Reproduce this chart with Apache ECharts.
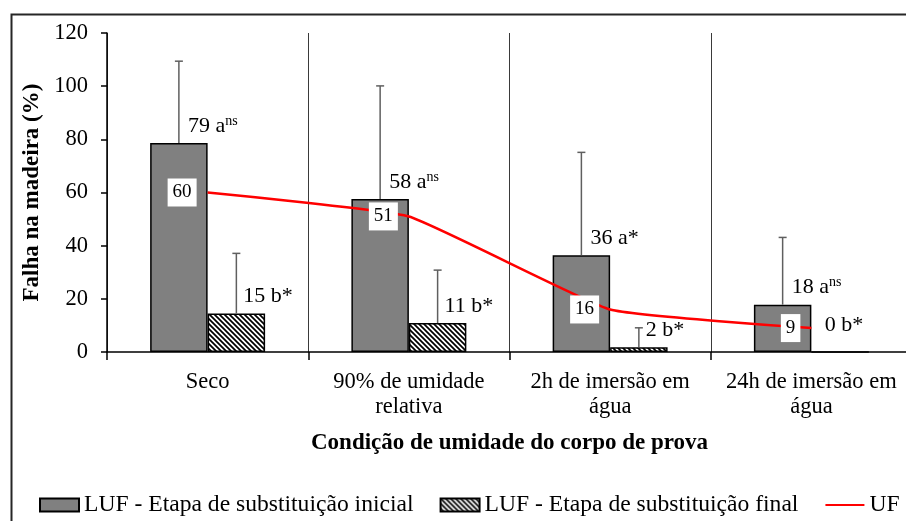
<!DOCTYPE html>
<html>
<head>
<meta charset="utf-8">
<script src="https://cdn.jsdelivr.net/npm/echarts@6/dist/echarts.min.js"></script>
<style>html,body{margin:0;padding:0;background:#fff}#c{width:906px;height:521px}</style>
</head>
<body>
<div id="c"></div>
<script>
// ---- data ----
const categories = ['Seco', '90% de umidade\nrelativa', '2h de imersão em\nágua', '24h de imersão em\nágua'];
const lufInicial = [78.6, 57.6, 36.4, 17.8];
const lufInicialSD = [30.8, 42.5, 38.7, 25.3];
const lufFinal = [14.5, 10.9, 1.8, 0];
const lufFinalSD = [22.6, 19.9, 7.3, 0];
const ufValues = [60, 51, 16, 9];
const inicialLetters = ['a', 'a', 'a', 'a'];
const inicialSig = ['ns', 'ns', '*', 'ns'];
const finalLetters = ['b', 'b', 'b', 'b'];
const finalSig = ['*', '*', '*', '*'];
const seriesNames = ['LUF - Etapa de substituição inicial', 'LUF - Etapa de substituição final', 'UF'];
const yMin = 0, yMax = 120, yInterval = 20;

// ---- styles ----
const FONT = "'Liberation Serif', 'Times New Roman', serif";
const BAR_FRAC = 0.2856;

const pc = document.createElement('canvas');
pc.width = 5; pc.height = 5;
const g = pc.getContext('2d');
g.fillStyle = '#fff'; g.fillRect(0, 0, 5, 5);
g.strokeStyle = '#000'; g.lineWidth = 1.7;
g.beginPath();
g.moveTo(-1, -1); g.lineTo(6, 6);
g.moveTo(-1, 4); g.lineTo(1, 6);
g.moveTo(4, -1); g.lineTo(6, 1);
g.stroke();
const hatch = { image: pc, repeat: 'repeat' };

function makeLabel(letters, sig) {
  return function (p) {
    const i = p.dataIndex;
    const n = Math.round(p.value);
    if (sig[i] === 'ns') return '{v|' + n + ' ' + letters[i] + '}{s|ns}';
    return '{v|' + n + ' ' + letters[i] + sig[i] + '}';
  };
}
const rich = {
  v: { fontFamily: FONT, fontSize: 22, color: '#000', lineHeight: 24 },
  s: { fontFamily: FONT, fontSize: 14, color: '#000', lineHeight: 14, verticalAlign: 'top' }
};

function errSeries(values, sds, sign) {
  return {
    type: 'custom',
    z: 5,
    encode: { x: 0, y: 1 },
    data: values.map((v, i) => [i, v, sds[i]]),
    silent: true,
    renderItem: function (params, api) {
      const idx = api.value(0), v = api.value(1), sd = api.value(2);
      if (!sd) return null;
      const band = api.size([1, 0])[0];
      const p0 = api.coord([idx, v]);
      const p1 = api.coord([idx, v + sd]);
      const x = p0[0] + sign * band * BAR_FRAC / 2;
      const st = { stroke: '#5f5f5f', lineWidth: 1.5 };
      return {
        type: 'group',
        children: [
          { type: 'line', shape: { x1: x, y1: p0[1], x2: x, y2: p1[1] }, style: st },
          { type: 'line', shape: { x1: x - 4, y1: p1[1], x2: x + 4, y2: p1[1] }, style: st }
        ]
      };
    }
  };
}

const chart = echarts.init(document.getElementById('c'), null, { renderer: 'canvas' });
chart.setOption({
  backgroundColor: '#fff',
  animation: false,
  graphic: [{
    type: 'rect', silent: true, z: 100,
    shape: { x: 11.5, y: 14.5, width: 1000, height: 600 },
    style: { fill: 'none', stroke: '#262626', lineWidth: 2 }
  }],
  grid: { left: 107, top: 33, right: -6, bottom: 169, containLabel: false, outerBoundsMode: 'none' },
  legend: {
    left: 39, top: 493, padding: 0,
    itemWidth: 39, itemHeight: 13, itemGap: 26,
    textStyle: { fontFamily: FONT, fontSize: 23.6, color: '#000' },
    data: [
      { name: seriesNames[0], icon: 'rect' },
      { name: seriesNames[1], icon: 'rect' },
      { name: seriesNames[2], itemStyle: { opacity: 0 } }
    ]
  },
  xAxis: {
    type: 'category',
    data: categories,
    name: 'Condição de umidade do corpo de prova',
    nameLocation: 'middle',
    nameGap: 80,
    nameTextStyle: { fontFamily: FONT, fontSize: 23, fontWeight: 'bold', color: '#000' },
    axisLine: { show: true, lineStyle: { color: '#000', width: 1.5 } },
    axisTick: { show: true, interval: 0, length: 8, lineStyle: { color: '#000', width: 1.5 } },
    axisLabel: { interval: 0, margin: 18, fontFamily: FONT, fontSize: 22.5, color: '#000', lineHeight: 25 },
    splitLine: { show: true, interval: 0, lineStyle: { color: '#3a3a3a', width: 1 } }
  },
  yAxis: {
    type: 'value',
    min: yMin, max: yMax, interval: yInterval,
    name: 'Falha na madeira (%)',
    nameLocation: 'middle',
    nameGap: 53,
    nameRotate: 90,
    nameTextStyle: { fontFamily: FONT, fontSize: 23, fontWeight: 'bold', color: '#000' },
    axisLine: { show: true, lineStyle: { color: '#000', width: 1.5 } },
    axisTick: { show: true, inside: false, length: 6, lineStyle: { color: '#000', width: 1.5 } },
    axisLabel: { margin: 19, fontFamily: FONT, fontSize: 22.5, color: '#000' },
    splitLine: { show: false }
  },
  series: [
    {
      name: seriesNames[0],
      type: 'bar',
      data: lufInicial,
      barWidth: (BAR_FRAC * 100) + '%',
      barGap: '0%',
      itemStyle: { color: '#808080', borderColor: '#000', borderWidth: 1.5 },
      label: { show: true, position: 'top', align: 'left', distance: 5, offset: [9, 0], formatter: makeLabel(inicialLetters, inicialSig), rich: rich },
      z: 2
    },
    {
      name: seriesNames[1],
      type: 'bar',
      data: lufFinal.map((v, i) => v === 0 ? { value: v, label: { align: 'center', offset: [4, -9] } } : v),
      barWidth: (BAR_FRAC * 100) + '%',
      barGap: '0%',
      itemStyle: { color: hatch, borderColor: '#000', borderWidth: 1.5 },
      label: { show: true, position: 'top', align: 'left', distance: 5, offset: [7, 0], formatter: makeLabel(finalLetters, finalSig), rich: rich },
      z: 2
    },
    errSeries(lufInicial, lufInicialSD, -1),
    errSeries(lufFinal, lufFinalSD, 1),
    {
      name: seriesNames[2],
      type: 'line',
      data: ufValues,
      smooth: 0.12,
      symbol: 'circle',
      symbolSize: 0.01,
      z: 6,
      itemStyle: { color: '#ff0000' },
      lineStyle: { color: '#ff0000', width: 2.5 },
      label: {
        show: true, position: 'left', distance: 11,
        backgroundColor: '#fff', padding: [4, 5, 4, 5],
        fontFamily: FONT, fontSize: 19, lineHeight: 20, color: '#000'
      }
    }
  ]
});
</script>
</body>
</html>
